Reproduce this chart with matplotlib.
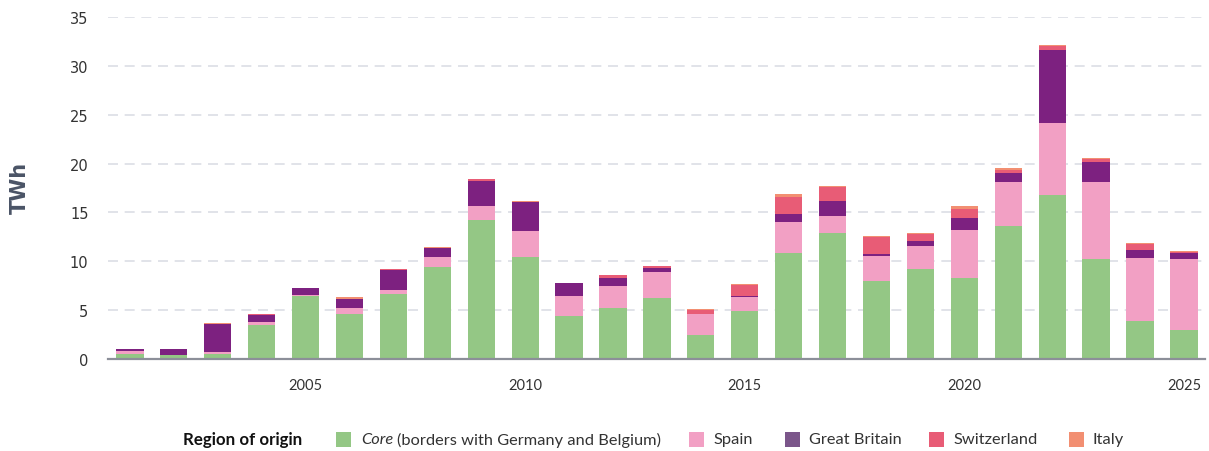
import matplotlib
matplotlib.use("Agg")
import matplotlib.pyplot as plt
from matplotlib.patches import Rectangle
import numpy as np

years = list(range(2001, 2026))
core = [0.5, 0.4, 0.5, 3.5, 6.4, 4.6, 6.65, 9.4, 14.2, 10.45, 4.4, 5.2, 6.25, 2.45, 4.9,
        10.85, 12.9, 8.0, 9.2, 8.3, 13.6, 16.8, 10.25, 3.9, 2.95]
spain = [0.3, 0.05, 0.2, 0.3, 0.1, 0.6, 0.4, 1.0, 1.45, 2.65, 2.05, 2.3, 2.65, 2.15, 1.45,
         3.15, 1.75, 2.55, 2.35, 4.9, 4.5, 7.35, 7.85, 6.45, 7.25]
great_britain = [0.2, 0.55, 2.9, 0.7, 0.8, 0.9, 2.05, 0.95, 2.55, 2.95, 1.35, 0.8, 0.4, 0.0, 0.1,
                 0.85, 1.55, 0.2, 0.55, 1.25, 0.95, 7.45, 2.05, 0.8, 0.65]
switzerland = [0.0, 0.0, 0.0, 0.1, 0.0, 0.0, 0.1, 0.05, 0.2, 0.05, 0.0, 0.3, 0.2, 0.4, 1.15,
               1.75, 1.4, 1.75, 0.7, 0.9, 0.3, 0.45, 0.3, 0.6, 0.1]
italy = [0.0, 0.0, 0.05, 0.0, 0.0, 0.25, 0.0, 0.05, 0.0, 0.1, 0.0, 0.0, 0.0, 0.1, 0.05,
         0.3, 0.1, 0.1, 0.1, 0.3, 0.2, 0.1, 0.1, 0.1, 0.1]

series = [core, spain, great_britain, switzerland, italy]
bar_colors = ["#94c785", "#f2a0c4", "#7d2180", "#e85c76", "#f28f72"]
legend_colors = ["#94c785", "#f2a0c4", "#7b568a", "#e85c76", "#f28f72"]
legend_labels = ["Core", "Spain", "Great Britain", "Switzerland", "Italy"]
xticks = [2005, 2010, 2015, 2020, 2025]
yticks = [0, 5, 10, 15, 20, 25, 30, 35]

W, H = 1209, 452
fig = plt.figure(figsize=(W / 100, H / 100), dpi=100)
ax = fig.add_axes([108 / W, 1 - 360 / H, (1205 - 108) / W, (360 - 18) / H])

bottom = np.zeros(len(years))
for vals, col in zip(series, bar_colors):
    ax.bar(years, vals, bottom=bottom, width=0.62, color=col, zorder=3, linewidth=0)
    bottom += np.array(vals)

ax.set_xlim(2000.5, 2025.48)
ax.set_ylim(0, 35)
ax.set_xticks(xticks)
ax.set_xticklabels([str(t) for t in xticks], fontsize=10.5, color="#333333", family="Lato")
ax.set_yticks(yticks)
ax.set_yticklabels([str(t) for t in yticks], fontsize=10.5, color="#333333", family="DejaVu Sans")
ax.tick_params(axis="both", length=0)
ax.tick_params(axis="y", pad=14)
ax.tick_params(axis="x", pad=14)
ax.grid(axis="y", color="#dcdee5", linestyle=(0, (6, 4)), linewidth=1.2, zorder=0)
for s in ["top", "right", "left"]:
    ax.spines[s].set_visible(False)
ax.spines["bottom"].set_color("#8c8f99")
ax.spines["bottom"].set_linewidth(1.6)
ax.spines["bottom"].set_zorder(4)

fig.text(20 / W, 1 - 188 / H, "TWh", rotation=90, fontsize=15, fontweight="bold",
         color="#4a5466", ha="center", va="center", family="DejaVu Sans")

# Legend
ly = 1 - 440 / H
fs = 11.75
fig.text(183 / W, ly, "Region of origin", fontsize=12.2, fontweight="bold", color="#111111",
         ha="left", va="center", family="Lato")
sq = 15
positions = [336, 689, 785, 929, 1069]
for xpos, col in zip(positions, legend_colors):
    fig.add_artist(Rectangle((xpos / W, (452 - 447.5) / H), sq / W, sq / H,
                             transform=fig.transFigure, color=col, linewidth=0))
fig.text(361 / W, ly, "Core", fontsize=fs, style="italic", color="#333333",
         ha="left", va="center", family="Lato")
fig.text(397 / W, ly, "(borders with Germany and Belgium)", fontsize=fs, color="#333333",
         ha="left", va="center", family="Lato")
for xpos, lab in zip(positions[1:], legend_labels[1:]):
    fig.text((xpos + 24) / W, ly, lab, fontsize=fs, color="#333333",
             ha="left", va="center", family="Lato")

fig.savefig("out.png", dpi=100)
